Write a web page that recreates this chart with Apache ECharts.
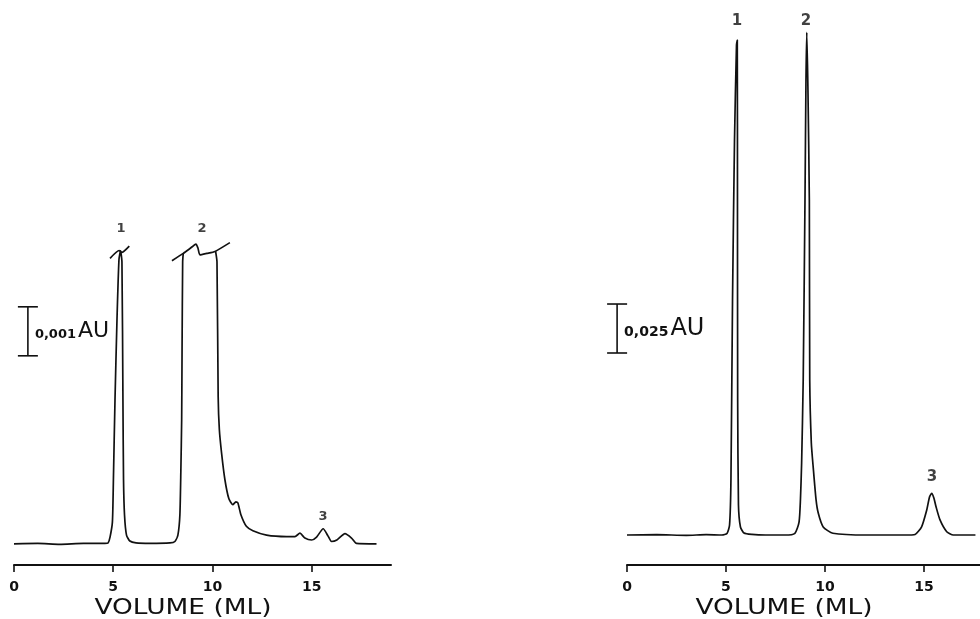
<!DOCTYPE html>
<html>
<head>
<meta charset="utf-8">
<title>Chromatograms</title>
<script src="https://cdn.jsdelivr.net/npm/echarts@6/dist/echarts.min.js"></script>
<style>
  html, body { margin: 0; padding: 0; background: #fff; }
  #chart { width: 980px; height: 619px; }
</style>
</head>
<body>
<div id="chart"></div>
<script>
// left trace: volume (ml) / absorbance (mAU), '-' = pen off scale
var leftVol = [0, 1.2, 2.3, 3.5, 4.58, 4.74, 4.84, 4.96, 5.01, 5.09, 5.19, 5.29, 5.37, 5.44, 5.49, 5.52, 5.57, 5.67, 5.84, 6.15, 6.85,
  7.86, 8.11, 8.26, 8.36, 8.41, 8.45, 8.47, 8.50, 8.53, 9.3, 10.16, 10.23, 10.29, 10.35, 10.46, 10.63, 10.83, 11.03, 11.18, 11.28,
  11.44, 11.71, 12.04, 12.73, 13.74, 14.16, 14.41, 14.66, 15.00, 15.25, 15.58, 15.83, 16.00, 16.27, 16.68, 17.01, 17.26, 18.27];
var leftAbs = [0, 0.01, -0.01, 0.01, 0.01, 0.02, 0.14, 0.45, 1.31, 2.94, 4.57, 5.80, 5.98, 5.76, 2.94, 1.31, 0.59, 0.18, 0.06, 0.02, 0.01,
  0.02, 0.05, 0.18, 0.59, 1.51, 2.53, 3.96, 5.76, 5.93, '-', 5.97, 5.76, 3.00, 2.33, 1.86, 1.31, 0.92, 0.80, 0.86, 0.84,
  0.59, 0.36, 0.27, 0.18, 0.15, 0.15, 0.22, 0.12, 0.08, 0.14, 0.31, 0.16, 0.05, 0.08, 0.21, 0.12, 0.01, 0];
// off-scale marks over peaks 1 and 2
var cap1Vol = [4.84, 5.30, 5.43, 5.81];
var cap1Abs = [5.83, 5.99, 5.95, 6.08];
var cap2Vol = [7.96, 8.53, 8.87, 9.17, 9.27, 9.37, 9.72, 10.13, 10.88];
var cap2Abs = [5.78, 5.93, 6.03, 6.12, 6.04, 5.90, 5.93, 5.97, 6.15];

// right trace: volume (ml) / absorbance (AU)
var rightVol = [0, 1.5, 3.0, 4.0, 4.80, 5.05, 5.18, 5.25, 5.33, 5.43, 5.53, 5.57, 5.58, 5.59, 5.63, 5.73, 5.91, 6.31, 7.0,
  7.98, 8.48, 8.69, 8.76, 8.82, 8.90, 8.99, 9.04, 9.08, 9.14, 9.21, 9.23, 9.31, 9.41, 9.55, 9.66, 9.91, 10.40, 12.11,
  14.04, 14.55, 14.88, 15.14, 15.28, 15.39, 15.50, 15.61, 15.81, 16.15, 16.48, 17.60];
var rightAbs = [0, 0.0002, -0.0002, 0.0002, 0, 0.0008, 0.0051, 0.0281, 0.1199, 0.2015, 0.2500, 0.2526, 0.1709, 0.0689, 0.0153, 0.0041, 0.0010, 0.0003, 0,
  0, 0.0009, 0.0066, 0.0179, 0.0367, 0.0791, 0.1709, 0.2321, 0.2566, 0.2270, 0.1709, 0.0791, 0.0470, 0.0340, 0.0179, 0.0112, 0.0041, 0.0009, 0,
  0, 0.0003, 0.0042, 0.0128, 0.0194, 0.0213, 0.0189, 0.0144, 0.0077, 0.0017, 0, 0];

var peakNames = ['1', '2', '3'];
var leftPeakVol = [5.39, 9.48, 15.57];
var leftPeakAbs = [6.43, 6.43, 0.55];
var rightPeakVol = [5.56, 9.04, 15.40];
var rightPeakAbs = [0.2624, 0.2624, 0.0296];

var tickValues = [0, 5, 10, 15];

// scale bars: [volume, bottom, top]
var leftBar = [[0.7, 3.84, 4.84]];
var rightBar = [[-0.5, 0.0929, 0.1179]];

function zip(a, b) {
  var out = [];
  for (var i = 0; i < a.length; i++) out.push([a[i], b[i]]);
  return out;
}
function peakData(v, a) {
  var out = [];
  for (var i = 0; i < v.length; i++) out.push({ value: [v[i], a[i]], name: peakNames[i] });
  return out;
}

var ink = '#111';

function barRenderer(numText, numSize, unitSize) {
  return function (params, api) {
    var p0 = api.coord([api.value(0), api.value(1)]);
    var p1 = api.coord([api.value(0), api.value(2)]);
    var st = { stroke: ink, lineWidth: 1.6 };
    return {
      type: 'group',
      children: [
        { type: 'line', shape: { x1: p0[0], y1: p0[1], x2: p1[0], y2: p1[1] }, style: st },
        { type: 'line', shape: { x1: p0[0] - 10, y1: p0[1], x2: p0[0] + 10, y2: p0[1] }, style: st },
        { type: 'line', shape: { x1: p1[0] - 10, y1: p1[1], x2: p1[0] + 10, y2: p1[1] }, style: st },
        {
          type: 'text',
          x: p0[0] + 7,
          y: (p0[1] + p1[1]) / 2,
          style: {
            text: '{n|' + numText + '}{u|AU}',
            verticalAlign: 'middle',
            fill: ink,
            rich: {
              n: { fontSize: numSize, fontWeight: 'bold', fontFamily: 'DejaVu Sans', verticalAlign: 'bottom', padding: [0, 2, 1, 0] },
              u: { fontSize: unitSize, fontFamily: 'DejaVu Sans', verticalAlign: 'bottom' }
            }
          }
        }
      ]
    };
  };
}

function xAxisFor(idx, max) {
  return {
    gridIndex: idx,
    type: 'value',
    min: 0,
    max: max,
    interval: 5,
    axisLine: { onZero: false, lineStyle: { color: ink, width: 2 } },
    axisTick: { show: true, length: 7, lineStyle: { color: ink, width: 1.6 }, customValues: tickValues },
    axisLabel: { customValues: tickValues, margin: 15, color: ink, fontSize: 14, fontWeight: 'bold', fontFamily: 'DejaVu Sans' },
    splitLine: { show: false }
  };
}

var traceStyle = { color: ink, width: 1.7 };
var labelStyle = function (size) {
  return { show: true, formatter: '{b}', color: ink, fontSize: size, fontWeight: 'bold', fontFamily: 'DejaVu Sans', position: 'inside' };
};

var chart = echarts.init(document.getElementById('chart'));
chart.setOption({
  animation: false,
  backgroundColor: '#fff',
  grid: [
    { left: 14, top: 201, width: 377, height: 364 },
    { left: 627, top: 6, width: 353, height: 559 }
  ],
  xAxis: [xAxisFor(0, 19), xAxisFor(1, 17.83)],
  yAxis: [
    { gridIndex: 0, type: 'value', min: -0.43, max: 7.0, show: false },
    { gridIndex: 1, type: 'value', min: -0.0153, max: 0.27, show: false }
  ],
  graphic: [
    { type: 'text', x: 183, y: 608, scaleX: 1.2, style: { text: 'VOLUME (ML)', font: '22px "DejaVu Sans"', fill: ink, align: 'center', verticalAlign: 'middle' } },
    { type: 'text', x: 784, y: 608, scaleX: 1.2, style: { text: 'VOLUME (ML)', font: '22px "DejaVu Sans"', fill: ink, align: 'center', verticalAlign: 'middle' } }
  ],
  series: [
    { type: 'line', xAxisIndex: 0, yAxisIndex: 0, data: zip(leftVol, leftAbs), showSymbol: false, smooth: 0.2, lineStyle: traceStyle },
    { type: 'line', xAxisIndex: 0, yAxisIndex: 0, data: zip(cap1Vol, cap1Abs), showSymbol: false, smooth: 0.2, lineStyle: traceStyle },
    { type: 'line', xAxisIndex: 0, yAxisIndex: 0, data: zip(cap2Vol, cap2Abs), showSymbol: false, smooth: 0.2, lineStyle: traceStyle },
    { type: 'line', xAxisIndex: 1, yAxisIndex: 1, data: zip(rightVol, rightAbs), showSymbol: false, smooth: 0.2, lineStyle: traceStyle },
    { type: 'scatter', xAxisIndex: 0, yAxisIndex: 0, symbolSize: 0, itemStyle: { color: 'rgba(0,0,0,0)' }, data: peakData(leftPeakVol, leftPeakAbs), label: labelStyle(13) },
    { type: 'scatter', xAxisIndex: 1, yAxisIndex: 1, symbolSize: 0, itemStyle: { color: 'rgba(0,0,0,0)' }, data: peakData(rightPeakVol, rightPeakAbs), label: labelStyle(15) },
    { type: 'custom', xAxisIndex: 0, yAxisIndex: 0, clip: false, data: leftBar, renderItem: barRenderer('0,001', 13, 22) },
    { type: 'custom', xAxisIndex: 1, yAxisIndex: 1, clip: false, data: rightBar, renderItem: barRenderer('0,025', 14, 24) }
  ]
});
</script>
</body>
</html>
